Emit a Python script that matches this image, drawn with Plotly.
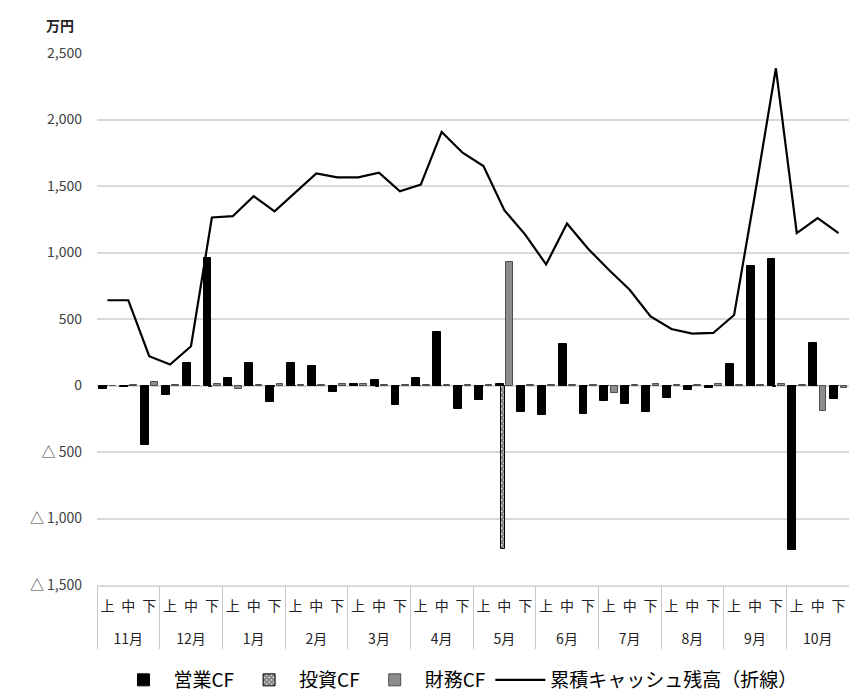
import plotly.graph_objects as go

months = ["11月", "12月", "1月", "2月", "3月", "4月", "5月", "6月", "7月", "8月", "9月", "10月"]
periods = ["上", "中", "下"]

operating_cf = [
    -25, -8, -445,
    -75, 170, 960,
    55, 170, -125,
    170, 150, -50,
    10, 45, -150,
    60, 405, -175,
    -110, 10, -200,
    -225, 315, -215,
    -120, -140, -200,
    -95, -35, -15,
    165, 900, 950,
    -1240, 320, -100,
]
investing_cf = [
    -5, -5, -5,
    -5, -5, -10,
    -5, -5, -10,
    -5, -5, -5,
    -5, -10, -5,
    -5, -5, -5,
    -5, -1230, -5,
    -5, -5, -5,
    -5, -5, -5,
    -5, -5, -10,
    -5, -5, -10,
    -5, -5, -5,
]
financing_cf = [
    0, 5, 25,
    5, -5, 10,
    -30, 5, 10,
    5, 5, 10,
    10, 5, 5,
    5, 5, 5,
    5, 930, 5,
    5, 5, 5,
    -55, 5, 10,
    5, 5, 10,
    5, 5, 10,
    5, -190, -15,
]
cumulative_cash = [
    641, 641, 220,
    158, 295, 1263,
    1273, 1423, 1310,
    1450, 1594, 1565,
    1565, 1600, 1460,
    1510, 1907, 1750,
    1650, 1318, 1135,
    910, 1218, 1030,
    870, 720, 520,
    425, 390, 395,
    530, 1440, 2385,
    1146, 1259, 1146,
]
y_tickvals = [-1500, -1000, -500, 0, 500, 1000, 1500, 2000, 2500]
y_ticktext = ["△ 1,500", "△ 1,000", "△ 500", "0", "500", "1,000", "1,500", "2,000", "2,500"]

# outer (month) labels get a leading line break so they sit lower, as in the reference
x_outer = ["<br>" + m for m in months for _ in periods]
x_inner = [p for _ in months for p in periods]
x = [x_outer, x_inner]

FONT = "Noto Sans CJK JP"

fig = go.Figure()
fig.add_trace(go.Bar(
    x=x, y=operating_cf, name="営業CF",
    marker=dict(color="#000000", line=dict(color="#000000", width=1)),
    width=0.38, offset=-0.40,
))
fig.add_trace(go.Bar(
    x=x, y=investing_cf, name="投資CF",
    marker=dict(color="#ffffff", line=dict(color="#000000", width=1),
                pattern=dict(shape="x", fgcolor="#000000", bgcolor="#ffffff", size=4, solidity=0.8)),
    width=0.16, offset=-0.15,
))
fig.add_trace(go.Bar(
    x=x, y=financing_cf, name="財務CF",
    marker=dict(color="#8c8c8c", line=dict(color="#4d4d4d", width=1)),
    width=0.32, offset=0.10,
))
fig.add_trace(go.Scatter(
    x=x, y=cumulative_cash, name="累積キャッシュ残高（折線）",
    mode="lines", line=dict(color="#000000", width=2.2),
))

fig.update_layout(
    width=849, height=699,
    margin=dict(l=97, r=0, t=53, b=114),
    paper_bgcolor="#ffffff", plot_bgcolor="#ffffff",
    font=dict(family=FONT, color="#222222"),
    showlegend=True,
    legend=dict(orientation="h", x=0.48, xanchor="center",
                yref="container", y=-0.016, yanchor="bottom",
                font=dict(size=19, color="#000000", family=FONT), itemwidth=50,
                traceorder="normal"),
    bargap=0, barmode="overlay",
)
fig.update_yaxes(
    range=[-1500, 2500], tickvals=y_tickvals, ticktext=y_ticktext,
    gridcolor="#d9d9d9", gridwidth=1.5, zeroline=True, zerolinecolor="#d9d9d9", zerolinewidth=1.5,
    tickfont=dict(size=14, color="#404040", family=FONT), ticklabelstandoff=14,
    showline=False, automargin=False,
)
fig.update_xaxes(
    type="multicategory", showline=True, linecolor="#d9d9d9", linewidth=1.5,
    showdividers=True, dividercolor="#c8c8c8", dividerwidth=1.2,
    tickfont=dict(size=14, color="#222222", family=FONT), tickangle=0,
    ticks="", ticklabelstandoff=7,
    showgrid=False, automargin=False,
)
fig.add_annotation(
    text="<b>万円</b>", xref="paper", yref="paper",
    x=-0.049, y=1.053, xanchor="center", yanchor="middle",
    showarrow=False, font=dict(size=14, color="#222222", family=FONT),
)

fig.write_html("out.html")
